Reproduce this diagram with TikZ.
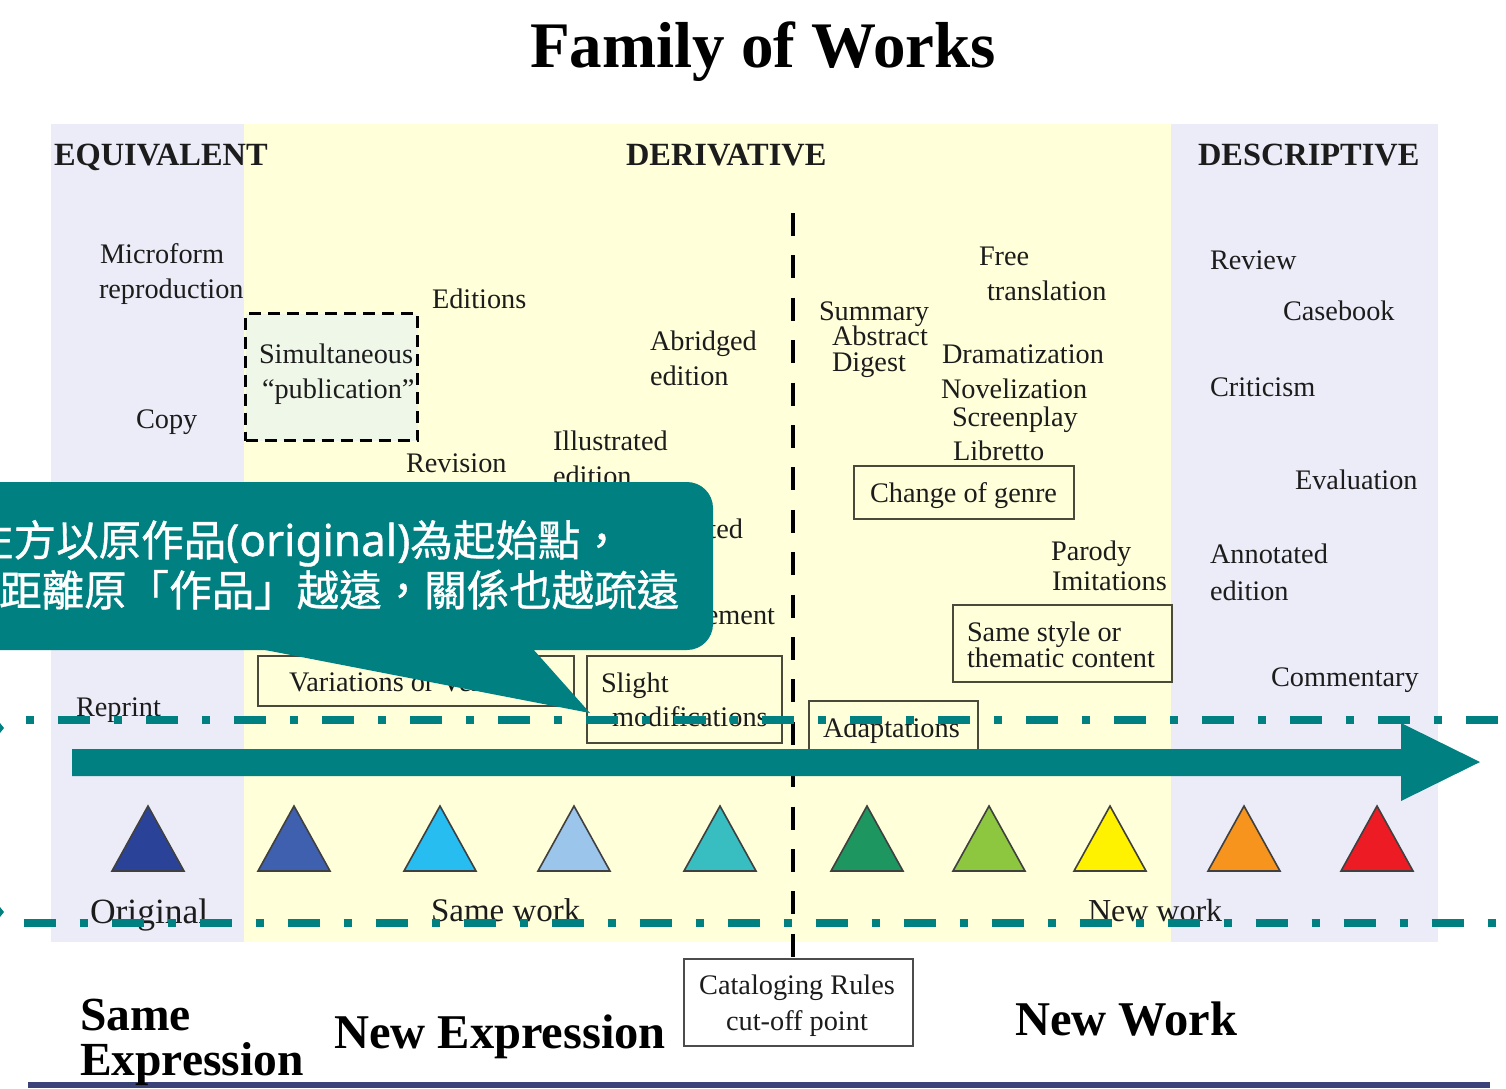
\documentclass[tikz,border=0pt]{standalone}
\usepackage{fontspec}
\setmainfont{Liberation Serif}
\newfontfamily\cjk[FakeBold=0.9]{Noto Sans CJK TC}
\newfontfamily\latn[FakeBold=0.9]{Noto Sans}
\usetikzlibrary{shapes.geometric}
\definecolor{teal1}{HTML}{008080}
\definecolor{lav}{HTML}{ECECF8}
\definecolor{yel}{HTML}{FFFFDA}
\definecolor{ink}{HTML}{1C1C1C}
\definecolor{navy}{HTML}{3B4277}
\definecolor{boxline}{HTML}{4A4A3A}
\definecolor{simfill}{HTML}{EFF7E8}
\tikzset{
 lbl/.style={anchor=base west,inner sep=0pt,outer sep=0pt,text=ink,font=\fontsize{28.3}{30}\selectfont},
 lblbig/.style={lbl,font=\fontsize{33}{35}\selectfont},
 head/.style={lbl,font=\fontsize{32.4}{34}\selectfont\bfseries},
 big/.style={lbl,text=black,font=\fontsize{48.5}{50}\selectfont\bfseries},
 framed/.style={draw=boxline,line width=2pt,fill=none,inner sep=0pt,outer sep=0pt,anchor=north west},
 tri/.style={draw=black!75,line width=1.6pt,line join=miter},
 tealline/.style={draw=teal1,line width=8pt},
 cjkline/.style={anchor=base west,inner sep=0pt,text=white,font=\fontsize{42.5}{44}\cjk},
}
\begin{document}
\begin{tikzpicture}[x=1pt,y=-1pt]
\useasboundingbox (0,0) rectangle (1506,1088);
\clip (0,0) rectangle (1506,1088);
\fill[white] (0,0) rectangle (1506,1088);
% panels
\fill[lav] (51,124) rectangle (244,942);
\fill[yel] (244,124) rectangle (1171,942);
\fill[lav] (1171,124) rectangle (1438,942);
\fill[navy] (28,1082) rectangle (1490,1088);
% title and headers
\node[lbl,text=black,font=\fontsize{65}{67}\selectfont\bfseries] (title) at (530,67) {Family of Works};
\node[head] (equiv) at (54,165) {EQUIVALENT};
\node[head] (deriv) at (626,165) {DERIVATIVE};
\node[head] (descr) at (1198,165) {DESCRIPTIVE};
% boxes
\node[draw=black,line width=3pt,dash pattern=on 12pt off 7pt,fill=simfill,minimum width=172pt,minimum height=127pt,inner sep=0pt,outer sep=0pt,anchor=north west] (simbox) at (245.5,313.5) {};
\node[framed,minimum width=316pt,minimum height=50pt] (varbox) at (257.5,655.5) {};
\node[framed,minimum width=195pt,minimum height=87pt] (slightbox) at (586.5,655.5) {};
\node[framed,minimum width=169pt,minimum height=52pt] (adaptbox) at (808.5,700.5) {};
\node[framed,minimum width=220pt,minimum height=53pt] (genrebox) at (853.5,465.5) {};
\node[framed,minimum width=219pt,minimum height=77pt] (stylebox) at (952.5,604.5) {};
\node[framed,draw=black!70,fill=white,minimum width=229pt,minimum height=87pt] (catbox) at (683.5,958.5) {};
% cut-off line
\coordinate (cuttop) at (793,213);
\draw[black,line width=4pt,dash pattern=on 23pt off 19.4pt] (cuttop) -- (cuttop |- catbox.north);
% labels
\node[lbl] (microform) at (100,263) {Microform};
\node[lbl] (reproduction) at (99,298) {reproduction};
\node[lbl] (copy) at (136,428) {Copy};
\node[lbl] (reprint) at (76,716) {Reprint};
\node[lbl] (editions) at (432,308) {Editions};
\node[lbl] (simult) at (259,363) {Simultaneous};
\node[lbl] (public) at (262,398) {“publication”};
\node[lbl] (revision) at (406,472) {Revision};
\node[lbl] (illus) at (553,450) {Illustrated};
\node[lbl] (illused) at (553,485) {edition};
\node[lbl] (abridged) at (650,350) {Abridged};
\node[lbl] (abred) at (650,385) {edition};
\node[lbl,anchor=base east] (ted) at (743,538) {ted};
\node[lbl,anchor=base east] (ement) at (775,624) {ement};
\node[lbl] (variations) at (289,691) {Variations or Versions};
\node[lbl] (slight) at (601,692) {Slight};
\node[lbl] (modif) at (612,726) {modifications};
\node[lbl] (adapt) at (823,737) {Adaptations};
\node[lbl] (summary) at (819,320) {Summary};
\node[lbl] (abstract) at (832,345) {Abstract};
\node[lbl] (digest) at (832,371) {Digest};
\node[lbl] (free) at (979,265) {Free};
\node[lbl] (transl) at (987,300) {translation};
\node[lbl] (drama) at (942,363) {Dramatization};
\node[lbl] (novel) at (941,398) {Novelization};
\node[lbl] (screen) at (952,426) {Screenplay};
\node[lbl] (libretto) at (953,460) {Libretto};
\node[lbl] (genre) at (870,502) {Change of genre};
\node[lbl] (parody) at (1051,560) {Parody};
\node[lbl] (imit) at (1052,590) {Imitations};
\node[lbl] (samestyle) at (967,641) {Same style or};
\node[lbl] (thematic) at (967,667) {thematic content};
\node[lbl] (review) at (1210,269) {Review};
\node[lbl] (casebook) at (1283,320) {Casebook};
\node[lbl] (critic) at (1210,396) {Criticism};
\node[lbl] (evalu) at (1295,489) {Evaluation};
\node[lbl] (annot) at (1210,563) {Annotated};
\node[lbl] (annoted) at (1210,600) {edition};
\node[lbl] (comment) at (1271,686) {Commentary};
\node[lblbig,font=\fontsize{35.5}{37}\selectfont] (original) at (90,923) {Original};
\node[lblbig] (samework) at (431,921) {Same work};
\node[lblbig,font=\fontsize{32}{34}\selectfont] (newwork) at (1088,921) {New work};
\node[lbl,anchor=base] (cat1) at (797,994) {Cataloging Rules};
\node[lbl,anchor=base] (cat2) at (797,1030) {cut-off point};
\node[big,font=\fontsize{47.5}{50}\selectfont\bfseries] (same) at (80,1030) {Same};
\node[big,font=\fontsize{47.5}{50}\selectfont\bfseries] (expr) at (80,1075) {Expression};
\node[big] (newexpr) at (334,1048) {New Expression};
\node[big] (newwk) at (1015,1035) {New Work};
% triangles
\foreach \cx/\col in {148/2B4299,294/3F5FAF,440/27BDF0,574/9CC5EC,720/38BEC0,867/1E9660,989/8DC63F,1110/FFF200,1244/F7941D,1377/ED1C24}{
  \definecolor{tc}{HTML}{\col}
  \draw[tri,fill=tc] (\cx-36,871) -- (\cx,806) -- (\cx+36,871) -- cycle;
}
% teal overlay
\draw[tealline,dash pattern=on 8pt off 24pt on 32pt off 24pt] (25.5,719.5) -- (1506,719.5);
\draw[tealline,dash pattern=on 32pt off 24pt on 8pt off 24pt] (23.5,923) -- (1506,923);
\fill[teal1] (-5,728) -- (0,723) -- (4,728) -- (0,733) -- cycle;
\fill[teal1] (-5,912) -- (0,907) -- (4,912) -- (0,917) -- cycle;
\fill[teal1] (72,749) -- (1401,749) -- (1401,723) -- (1480,762) -- (1401,801) -- (1401,776) -- (72,776) -- cycle;
% callout
\fill[teal1,rounded corners=26pt] (-40,482) rectangle (713,650);
\fill[teal1] (260,649) -- (533,649) -- (590,713) -- cycle;
\node[cjkline] (line1) at (-29,556) {左方以原作品{\fontsize{44}{46}\latn (original)}為起始點，};
\node[cjkline] (line2) at (-1,606) {距離原「作品」越遠，關係也越疏遠};
\end{tikzpicture}
\end{document}
